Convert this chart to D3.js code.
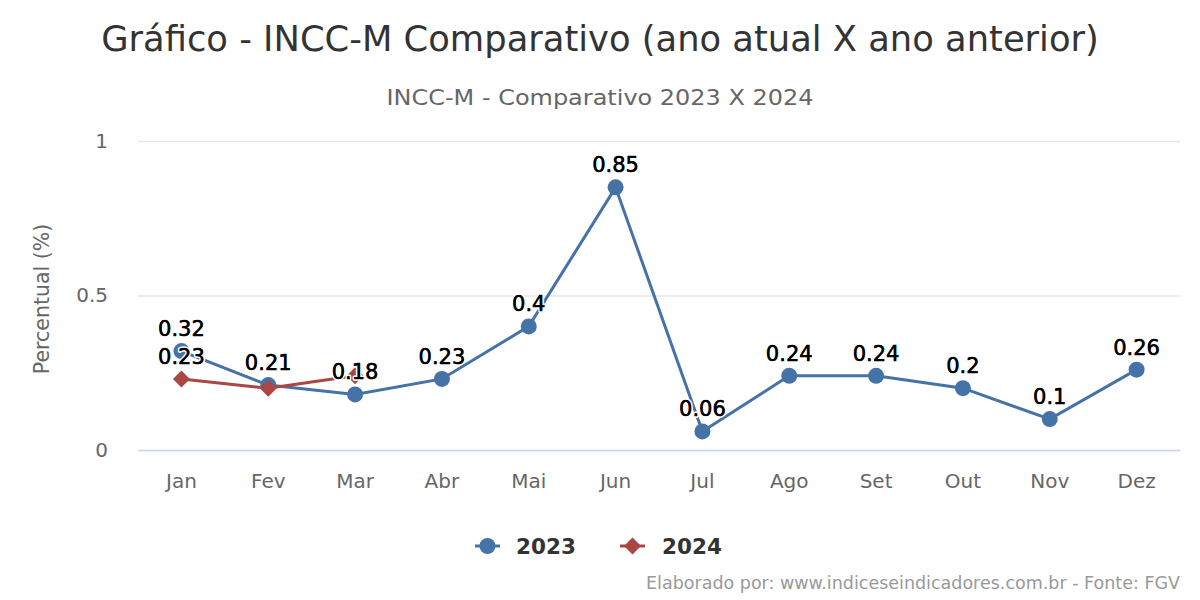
<!DOCTYPE html>
<html><head><meta charset="utf-8">
<script src="https://cdn.jsdelivr.net/npm/d3@7"></script>
<style>html,body{margin:0;padding:0;background:#fff}</style>
</head><body><svg id="c" width="1200" height="600"></svg>
<script>
const categories = ["Jan","Fev","Mar","Abr","Mai","Jun","Jul","Ago","Set","Out","Nov","Dez"];
const values2023 = [0.32,0.21,0.18,0.23,0.40,0.85,0.06,0.24,0.24,0.20,0.10,0.26];
const values2024 = [0.23,0.20,0.24];
const seriesNames = ["2023","2024"];
const yTicks = [0,0.5,1];
const titleText = "Gráfico - INCC-M Comparativo (ano atual X ano anterior)";
const subtitleText = "INCC-M - Comparativo 2023 X 2024";
const yAxisTitle = "Percentual (%)";
const creditsText = "Elaborado por: www.indiceseindicadores.com.br - Fonte: FGV";

const FONT = "DejaVu Sans, sans-serif";
const svg = d3.select("#c");
const colors = ["#4572A7","#AA4643"];
const L=138, R=1180, T=141, B=450;
const x = d3.scaleBand().domain(categories).range([L,R]);
const y = d3.scaleLinear().domain([0,1]).range([B,T]);

svg.append("text").attr("x",600).attr("y",51).attr("text-anchor","middle")
  .attr("font-family",FONT).attr("font-size",35.3).attr("fill","#333").text(titleText);
svg.append("text").attr("x",600).attr("y",105).attr("text-anchor","middle")
  .attr("font-family",FONT).attr("font-size",22).attr("fill","#666").attr("textLength",427).attr("lengthAdjust","spacingAndGlyphs").text(subtitleText);

// grid
const yAxis = d3.axisLeft(y).tickValues(yTicks).tickSize(-(R-L)).tickPadding(30).tickFormat(d3.format("~g"));
const gy = svg.append("g").attr("transform",`translate(${L},0)`).call(yAxis);
gy.select(".domain").remove();
gy.selectAll(".tick line").attr("stroke","#e6e6e6").attr("stroke-width",1.5);
gy.selectAll(".tick text").attr("font-family",FONT).attr("font-size",20).attr("fill","#666");

const xAxis = d3.axisBottom(x).tickSize(0).tickPadding(24);
const gx = svg.append("g").attr("transform",`translate(0,${B})`).call(xAxis);
gx.select(".domain").attr("stroke","#ccd6eb").attr("stroke-width",1.5);
gx.selectAll(".tick text").attr("font-family",FONT).attr("font-size",20).attr("fill","#666");

svg.append("text").attr("transform",`translate(49,299) rotate(-90)`).attr("text-anchor","middle")
  .attr("font-family",FONT).attr("font-size",20.5).attr("fill","#666").text(yAxisTitle);

const diamond = r => `M0,${-r}L${r},0L0,${r}L${-r},0Z`;
const data = [values2023, values2024];
const line = d3.line().x((d,i)=>x(categories[i])+x.bandwidth()/2).y(d=>y(d));
data.forEach((vals,si)=>{
  const g = svg.append("g");
  g.append("path").datum(vals).attr("d",line).attr("fill","none").attr("stroke",colors[si]).attr("stroke-width",3);
  vals.forEach((v,i)=>{
    const cx = x(categories[i])+x.bandwidth()/2, cy=y(v);
    if(si===0) g.append("circle").attr("cx",cx).attr("cy",cy).attr("r",8).attr("fill",colors[si]);
    else g.append("path").attr("d",diamond(8.5)).attr("transform",`translate(${cx},${cy})`).attr("fill",colors[si]);
  });
});

// data labels with overlap hiding
const placed=[];
const lg = svg.append("g");
data.forEach((vals,si)=>{
  vals.forEach((v,i)=>{
    const cx = x(categories[i])+x.bandwidth()/2, cy=y(v)-15;
    const t = d3.format("~g")(v);
    const w = t.length*11.5, h=22;
    const box={x0:cx-w/2,x1:cx+w/2,y0:cy-h+4,y1:cy+4};
    if(placed.some(b=>!(box.x1<b.x0||box.x0>b.x1||box.y1<b.y0||box.y0>b.y1))) return;
    placed.push(box);
    lg.append("text").attr("x",cx).attr("y",cy).attr("text-anchor","middle")
      .attr("font-family",FONT).attr("font-size",21).attr("fill","#000")
      .attr("stroke","#fff").attr("stroke-width",3.5).attr("paint-order","stroke").attr("stroke-linejoin","round").text(t);
    lg.append("text").attr("x",cx).attr("y",cy).attr("text-anchor","middle")
      .attr("font-family",FONT).attr("font-size",21).attr("fill","#000")
      .attr("stroke","#000").attr("stroke-width",0.4).text(t);
  });
});

// legend
const leg = [{x:475,tx:516},{x:620,tx:662}];
seriesNames.forEach((n,si)=>{
  const g=svg.append("g");
  g.append("line").attr("x1",leg[si].x).attr("x2",leg[si].x+25).attr("y1",546).attr("y2",546).attr("stroke",colors[si]).attr("stroke-width",3);
  if(si===0) g.append("circle").attr("cx",leg[si].x+12.5).attr("cy",546).attr("r",8).attr("fill",colors[si]);
  else g.append("path").attr("d",diamond(8.5)).attr("transform",`translate(${leg[si].x+12.5},546)`).attr("fill",colors[si]);
  g.append("text").attr("x",leg[si].tx).attr("y",554).attr("font-family",FONT).attr("font-weight","bold").attr("font-size",21.5).attr("fill","#333").text(n);
});

svg.append("text").attr("x",1180).attr("y",589).attr("text-anchor","end")
  .attr("font-family",FONT).attr("font-size",17.5).attr("fill","#999").text(creditsText);
</script></body></html>
